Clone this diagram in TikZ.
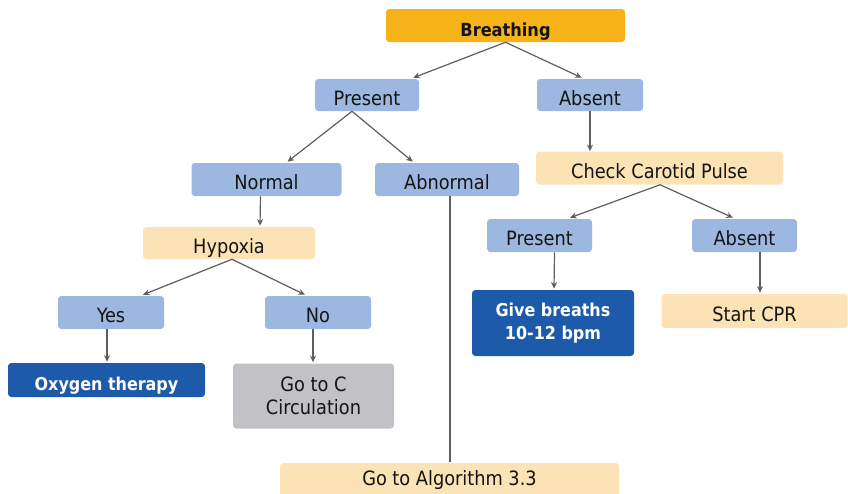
\documentclass[tikz,border=0pt]{standalone}
\usepackage{fontspec}
\setmainfont{DejaVu Sans Condensed}
\usetikzlibrary{calc,arrows.meta}
\definecolor{orng}{HTML}{F6B219}
\definecolor{lblue}{HTML}{9DB8E0}
\definecolor{peach}{HTML}{FCE3B5}
\definecolor{dblue}{HTML}{1D5BAA}
\definecolor{gry}{HTML}{C2C2C6}
\definecolor{arrc}{HTML}{5E5E5E}
\definecolor{txt}{HTML}{141414}
\tikzset{
  bx/.style={rounded corners=2.5pt, inner sep=0pt, align=center, text=txt,
    font=\fontsize{14.8}{17.25}\selectfont, text height=15pt, text depth=0pt},
  two/.style={text height=, text depth=},
  sz/.style 2 args={minimum width=#1*0.75pt, minimum height=#2*0.75pt},
  bluebox/.style={bx, fill=lblue},
  peachbox/.style={bx, fill=peach},
  darkbox/.style={bx, fill=dblue, text=white, font=\fontsize{13.3}{17.25}\selectfont\bfseries},
  graybox/.style={bx, fill=gry},
  orbox/.style={bx, fill=orng, font=\fontsize{13.5}{17.25}\selectfont\bfseries, text height=16.5pt},
  arr/.style={draw=arrc, line width=0.9pt, -{Stealth[length=5pt,width=4.5pt]}},
  ln/.style={draw=arrc, line width=0.9pt}
}
\begin{document}
\begin{tikzpicture}[x=0.75pt,y=-0.75pt]
\useasboundingbox (0,0) rectangle (848,493);
\begin{scope}
\clip (0,0) rectangle (848,493);
\node[orbox, sz={239}{33}] (breath) at (505.5,25.5) {Breathing};
\node[bluebox, sz={104}{32}] (pres) at (367,95) {Present};
\node[bluebox, sz={106}{32}] (abs) at (590,95) {Absent};
\node[peachbox, sz={247}{33}] (carot) at (659.5,168) {Check Carotid Pulse};
\node[bluebox, sz={150}{33}] (norm) at (266.5,179.5) {Normal};
\node[bluebox, sz={144}{33}] (abn) at (447,179.5) {Abnormal};
\node[peachbox, sz={172}{32}] (hyp) at (229,243) {Hypoxia};
\node[bluebox, sz={105}{33}] (pres2) at (539.5,235.5) {Present};
\node[bluebox, sz={105}{33}] (abs2) at (744.5,235.5) {Absent};
\node[bluebox, sz={106}{33}] (yes) at (111,312.5) {Yes};
\node[bluebox, sz={106}{33}] (no) at (318,312.5) {No};
\node[darkbox, sz={197}{34}] (oxy) at (106.5,380) {Oxygen therapy};
\node[graybox, two, sz={161}{65}] (goc) at (313.5,396) {Go to C\\Circulation};
\node[darkbox, two, sz={162}{66}] (give) at (553,323) {Give breaths\\10-12 bpm};
\node[peachbox, sz={186}{34}] (cpr) at (754.5,311) {Start CPR};
\node[peachbox, sz={339}{38}] (alg) at (449.5,482) {};
\node[bx, text height=, text depth=, anchor=base] (algt) at (449.5,485) {Go to Algorithm 3.3};
\end{scope}
\draw[arr] (breath.south) -- ($(pres.north east)+(-6,-1)$);
\draw[arr] (breath.south) -- ($(abs.north west)+(45,-1)$);
\draw[arr] ($(pres.south)+(-15,0)$) -- ($(norm.north)+(21,-1)$);
\draw[arr] ($(pres.south)+(-15,0)$) -- ($(abn.north west)+(38,-1)$);
\draw[arr] (abs.south) -- (abs.south |- carot.north);
\draw[arr] ($(norm.south)+(-6,0)$) -- ($(hyp.north)+(31,-1)$);
\draw[ln] ($(abn.south)+(3,0)$) -- ($(alg.north)+(0.5,-1)$);
\draw[arr] ($(hyp.south)+(3,0)$) -- ($(yes.north)+(32,-1)$);
\draw[arr] ($(hyp.south)+(3,0)$) -- ($(no.north)+(-13,-1)$);
\draw[arr] ($(carot.south)+(0.5,0)$) -- ($(pres2.north)+(30.5,-1)$);
\draw[arr] ($(carot.south)+(0.5,0)$) -- ($(abs2.north)+(-11.5,-1)$);
\draw[arr] ($(yes.south)+(-4,0)$) -- ($(oxy.north)+(0.5,-1)$);
\draw[arr] ($(no.south)+(-5,0)$) -- ($(goc.north)+(-0.5,-1)$);
\draw[arr] ($(pres2.south)+(15,0)$) -- ($(give.north)+(1,-1)$);
\draw[arr] ($(abs2.south)+(15.5,0)$) -- ($(cpr.north)+(5.5,-1)$);
\end{tikzpicture}
\end{document}
